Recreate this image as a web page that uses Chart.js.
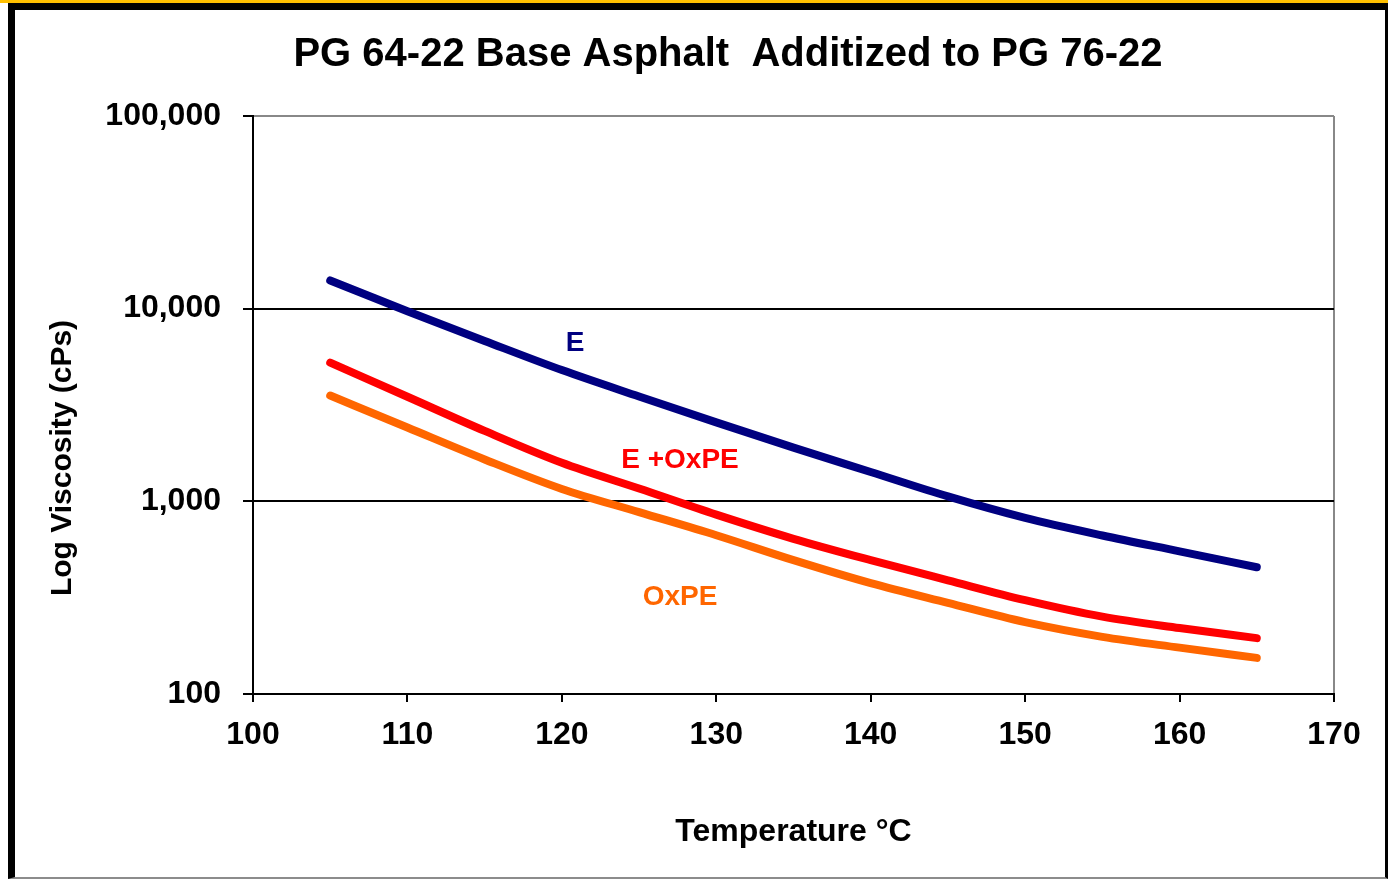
<!DOCTYPE html>
<html>
<head>
<meta charset="utf-8">
<title>PG 64-22 Base Asphalt Additized to PG 76-22</title>
<script src="https://cdn.jsdelivr.net/npm/chart.js@4/dist/chart.umd.min.js"></script>
<style>
  html, body { margin: 0; background: #fff; }
  .topbar { position: absolute; left: 0; top: 0; width: 1388px; height: 3px; background: #ffc000; }
  .frame {
    position: absolute; left: 8px; top: 3px; width: 1370px; height: 867px;
    border-left: 7px solid #000; border-top: 7px solid #000;
    border-right: 3px solid #000; border-bottom: 2px solid #8c8c8c;
    background: #fff;
  }
  .frame canvas { display: block; }
</style>
</head>
<body>
<div class="topbar"></div>
<div class="frame"><canvas id="viscChart"></canvas></div>
<script>
// ---- data ----
const temps = [105, 110, 115, 120, 125, 130, 135, 140, 145, 150, 155, 160, 165];
const viscE = [14000, 9700, 6800, 4800, 3500, 2570, 1900, 1420, 1060, 820, 665, 550, 455];
const viscEOx = [5250, 3490, 2320, 1585, 1165, 853, 639, 495, 389, 307, 252, 220, 195];
const viscOx = [3540, 2415, 1650, 1160, 879, 667, 495, 376, 297, 236, 198, 174, 154];
const yTicks = [100, 1000, 10000, 100000];

const chartTitle = 'PG 64-22 Base Asphalt  Additized to PG 76-22';
const xTitle = 'Temperature °C';
const yTitle = 'Log Viscosity (cPs)';

// in-plot series labels: [text, temperature, viscosity, colour]
const seriesLabels = [
  ['E', 120.85, 6590, '#000080'],
  ['E +OxPE', 127.65, 1631, '#ff0000'],
  ['OxPE', 127.65, 318, '#ff6600']
];

const FAMILY = '"Liberation Sans", Arial, sans-serif';
const tickFont = { family: FAMILY, size: 32, weight: 'bold' };

function series(vals, color) {
  return {
    data: temps.map((t, i) => ({ x: t, y: vals[i] })),
    borderColor: color,
    backgroundColor: color,
    borderWidth: 8,
    borderCapStyle: 'round',
    borderJoinStyle: 'round',
    cubicInterpolationMode: 'monotone',
    pointRadius: 0,
    fill: false
  };
}

// title, rotated y title and the curve labels
const chartTexts = {
  id: 'chartTexts',
  afterDraw(chart) {
    const { ctx, scales: { x, y } } = chart;
    ctx.save();
    ctx.textAlign = 'center';
    ctx.textBaseline = 'middle';
    ctx.fillStyle = '#000';
    ctx.font = 'bold 40px ' + FAMILY;
    ctx.fillText(chartTitle, 713, 45);

    ctx.save();
    ctx.translate(48, 448);
    ctx.rotate(-Math.PI / 2);
    ctx.font = 'bold 30px ' + FAMILY;
    ctx.fillText(yTitle, 0, 0);
    ctx.restore();

    ctx.font = 'bold 28px ' + FAMILY;
    seriesLabels.forEach(([txt, t, v, col]) => {
      ctx.fillStyle = col;
      ctx.fillText(txt, x.getPixelForValue(t), y.getPixelForValue(v));
    });
    ctx.restore();
  }
};

new Chart(document.getElementById('viscChart'), {
  type: 'line',
  data: {
    datasets: [
      series(viscE, '#000080'),
      series(viscEOx, '#ff0000'),
      series(viscOx, '#ff6600')
    ]
  },
  options: {
    responsive: true,
    maintainAspectRatio: false,
    animation: false,
    layout: { padding: { top: 106, right: 51, left: 0, bottom: 0 } },
    plugins: {
      legend: { display: false },
      tooltip: { enabled: false },
      title: { display: false }
    },
    scales: {
      x: {
        type: 'linear',
        min: 100,
        max: 170,
        afterFit: s => { s.height = 183; },
        border: { color: '#000', width: 2 },
        grid: {
          color: c => (c.tick && c.tick.value === 170 ? '#888' : 'rgba(0,0,0,0)'),
          lineWidth: 2,
          tickLength: 8,
          tickColor: '#000',
          tickWidth: 2
        },
        ticks: { stepSize: 10, color: '#000', font: tickFont, padding: 14 },
        title: {
          display: true,
          text: xTitle,
          color: '#000',
          font: { family: FAMILY, size: 32, weight: 'bold' },
          padding: { top: 0, bottom: 26 }
        }
      },
      y: {
        type: 'logarithmic',
        min: 100,
        max: 100000,
        afterBuildTicks: s => { s.ticks = yTicks.map(v => ({ value: v })); },
        afterFit: s => { s.width = 238; },
        border: { color: '#000', width: 2 },
        grid: {
          color: c => (c.tick && c.tick.value === 100000 ? '#888' : '#000'),
          lineWidth: 2,
          tickLength: 10,
          tickColor: '#000',
          tickWidth: 2
        },
        ticks: {
          color: '#000',
          font: tickFont,
          padding: 22,
          callback: v => Number(v).toLocaleString('en-US')
        }
      }
    }
  },
  plugins: [chartTexts]
});
</script>
</body>
</html>
